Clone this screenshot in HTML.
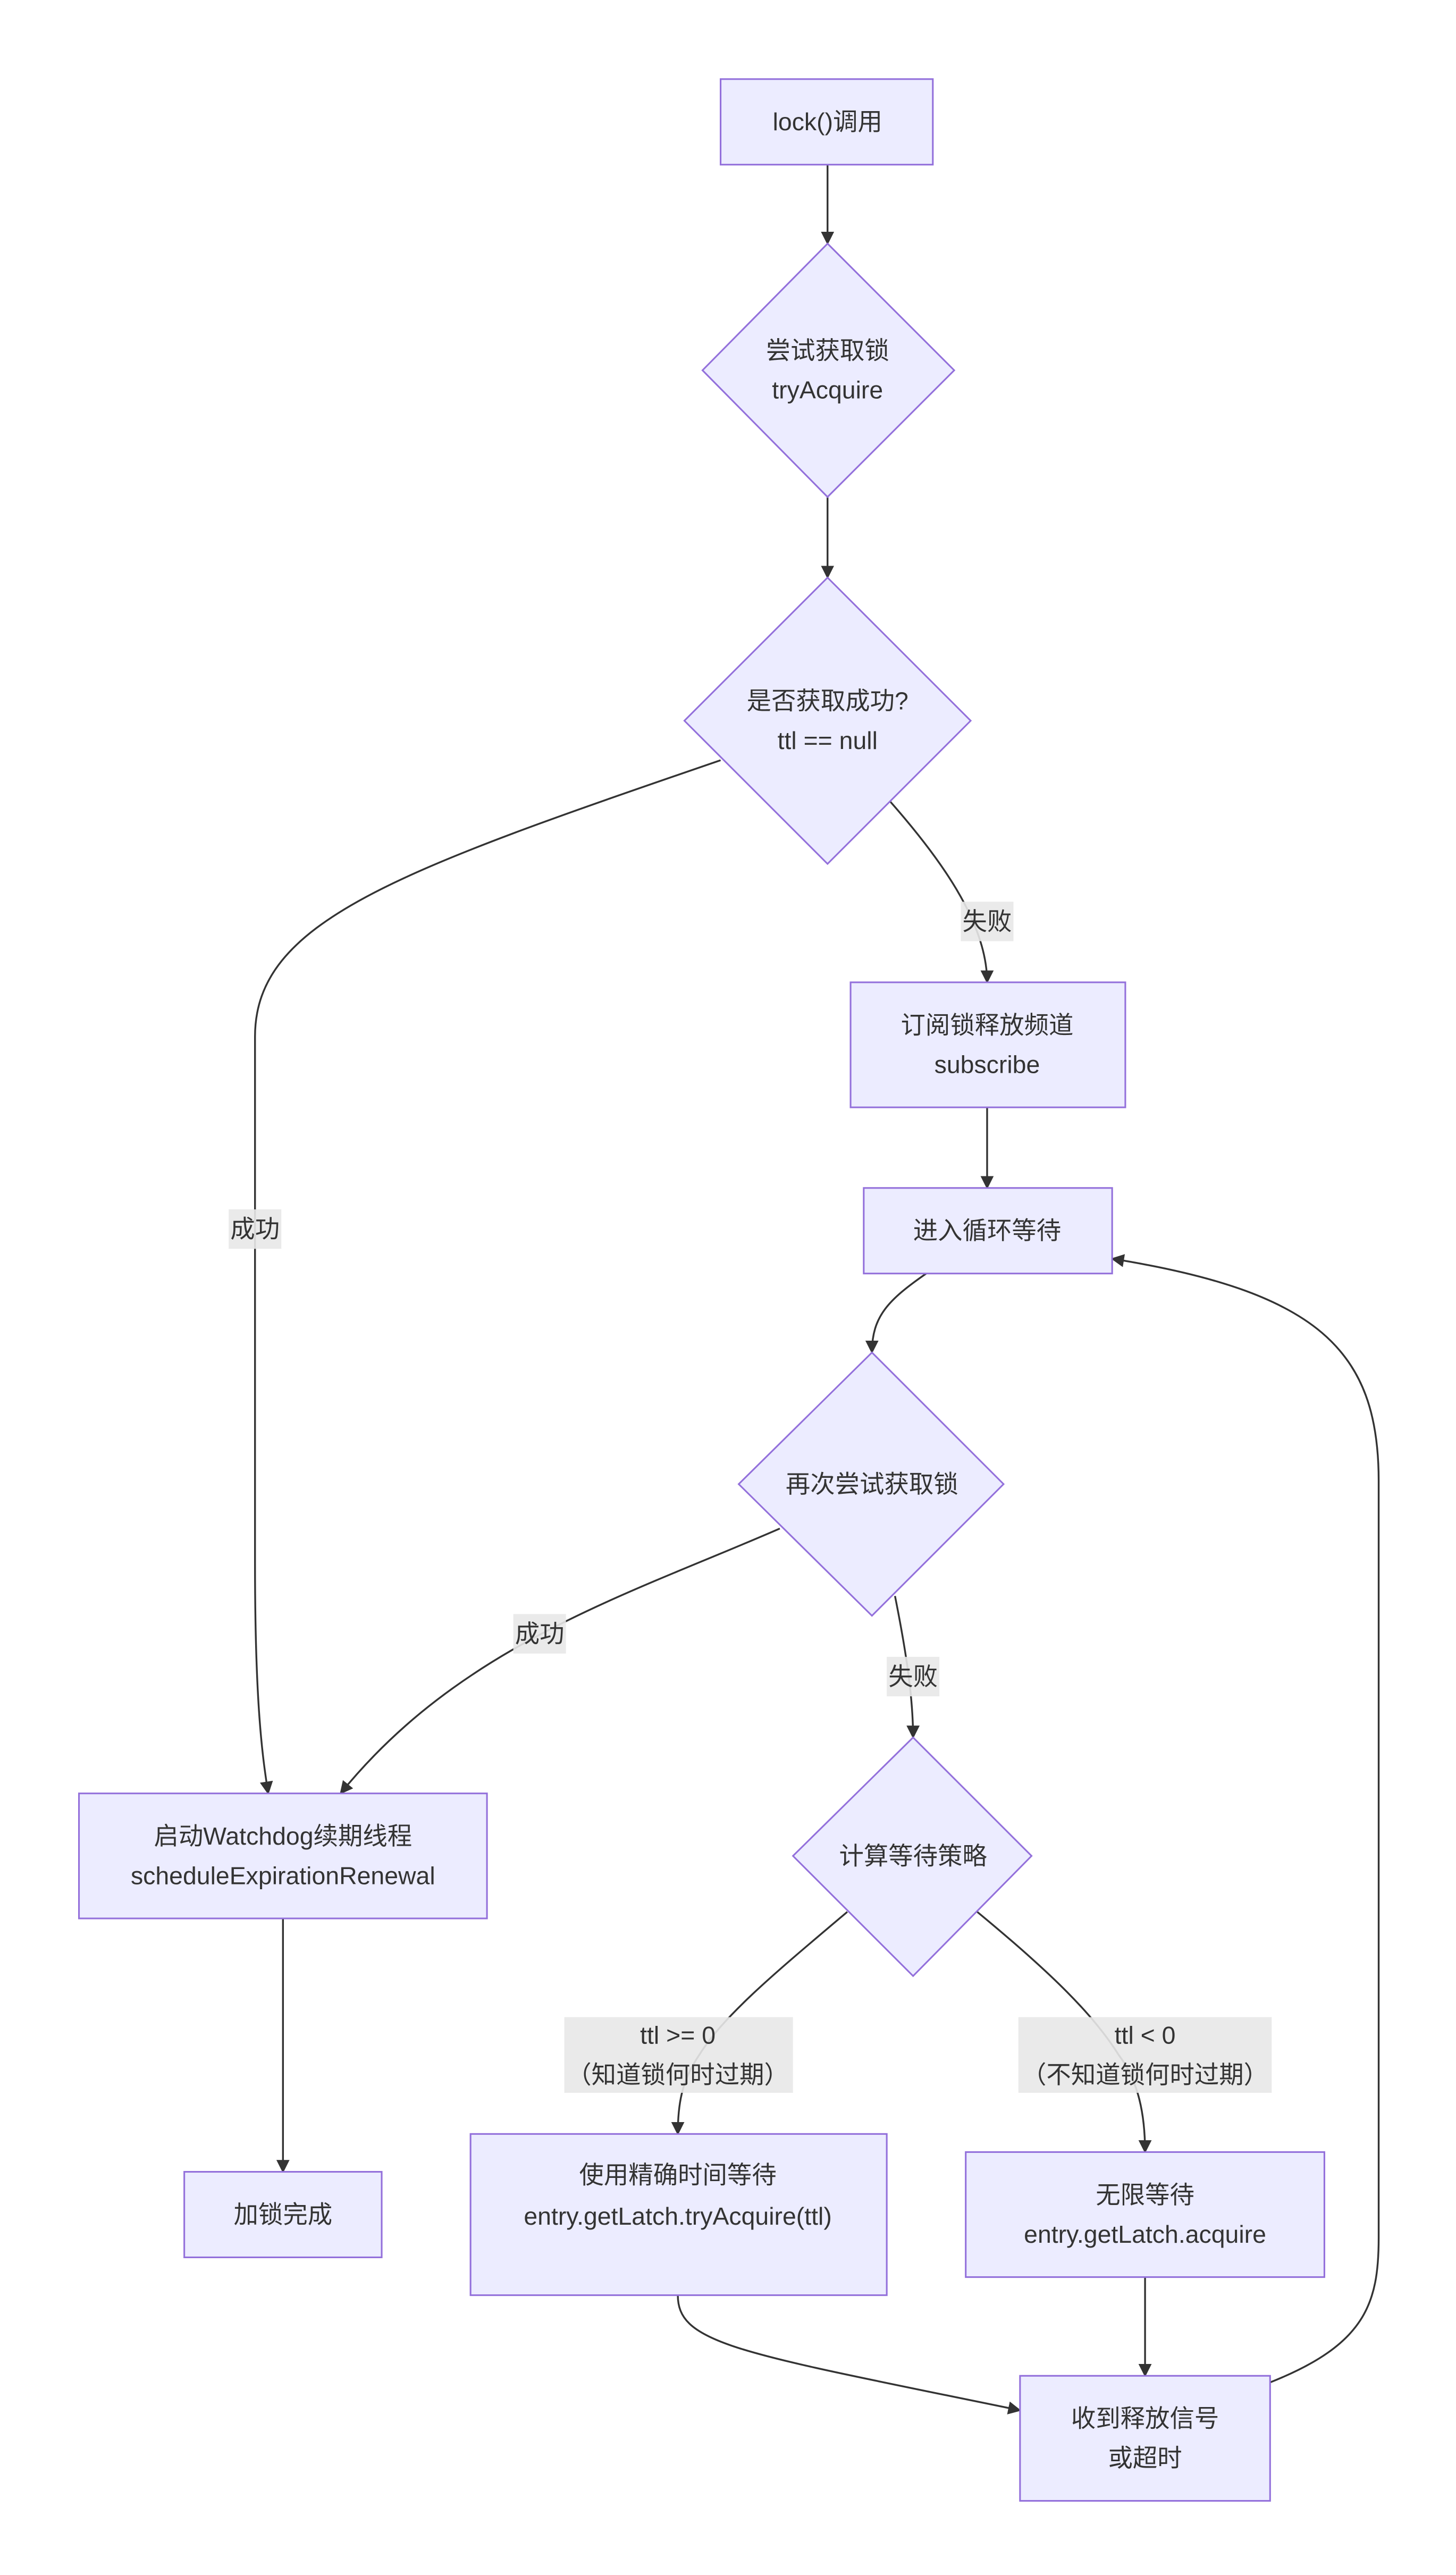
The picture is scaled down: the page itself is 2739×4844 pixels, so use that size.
<!DOCTYPE html>
<html><head><meta charset="utf-8">
<style>
html,body{margin:0;padding:0;background:#fff;}
svg{display:block;}
text{font-family:"Liberation Sans","Noto Sans CJK SC",sans-serif;font-size:15px;fill:#333;text-anchor:middle;dominant-baseline:central;}
.n{fill:#ECECFF;stroke:#9370DB;stroke-width:1;}
.e{fill:none;stroke:#333;stroke-width:1.1;}
.lb{fill:#e8e8e8;opacity:0.9;}
</style></head><body>
<svg width="2739" height="4844" viewBox="0 0 885 1565" xmlns="http://www.w3.org/2000/svg">
<defs><marker id="a" viewBox="0 0 10 10" refX="9" refY="5" markerWidth="8" markerHeight="8" markerUnits="userSpaceOnUse" orient="auto"><path d="M0,0L10,5L0,10z" fill="#333"/></marker></defs>
<rect width="885" height="1565" fill="#fff"/>
<!-- edges -->
<path class="e" marker-end="url(#a)" d="M503,100 L503,148"/>
<path class="e" marker-end="url(#a)" d="M503,302 L503,351"/>
<path class="e" marker-end="url(#a)" d="M438,462 C240,530 155,560 155,630 L155,950 C155,1040 160,1070 163,1090"/>
<path class="e" marker-end="url(#a)" d="M541,487 C570,520 600,560 600,597"/>
<path class="e" marker-end="url(#a)" d="M600,673 L600,722"/>
<path class="e" marker-end="url(#a)" d="M563,774 C540,790 530,800 530,822"/>
<path class="e" marker-end="url(#a)" d="M474,929 C380,970 280,1000 207,1090"/>
<path class="e" marker-end="url(#a)" d="M544,970 C550,1000 555,1030 555,1056"/>
<path class="e" marker-end="url(#a)" d="M172,1166 L172,1320"/>
<path class="e" marker-end="url(#a)" d="M515,1162 C470,1200 440,1225 425,1249 C414,1265 412,1280 412,1297"/>
<path class="e" marker-end="url(#a)" d="M594,1162 C640,1200 665,1225 680,1249 C692,1265 696,1285 696,1308"/>
<path class="e" marker-end="url(#a)" d="M696,1384 L696,1444"/>
<path class="e" marker-end="url(#a)" d="M412,1395 C412,1425 450,1430 620,1465"/>
<path class="e" marker-end="url(#a)" d="M772,1448 C830,1425 838,1400 838,1360 L838,900 C838,820 800,785 676,765"/>
<!-- edge labels -->
<rect class="lb" x="139" y="735" width="32" height="24"/><text x="155" y="747">成功</text>
<rect class="lb" x="584" y="548" width="32" height="24"/><text x="600" y="560">失败</text>
<rect class="lb" x="312" y="981" width="32" height="24"/><text x="328" y="993">成功</text>
<rect class="lb" x="539" y="1007" width="32" height="24"/><text x="555" y="1019">失败</text>
<rect class="lb" x="343" y="1226" width="139" height="46"/><text x="412" y="1237">ttl &gt;= 0</text><text x="412" y="1261">（知道锁何时过期）</text>
<rect class="lb" x="619" y="1226" width="154" height="46"/><text x="696" y="1237">ttl &lt; 0</text><text x="696" y="1261">（不知道锁何时过期）</text>
<!-- nodes -->
<rect class="n" x="438" y="48" width="129" height="52"/><text x="503" y="74">lock()调用</text>
<polygon class="n" points="503,148 580,225 503,302 427,225"/><text x="503" y="213">尝试获取锁</text><text x="503" y="237">tryAcquire</text>
<polygon class="n" points="503,351 590,438 503,525 416,438"/><text x="503" y="426">是否获取成功?</text><text x="503" y="450">ttl == null</text>
<rect class="n" x="517" y="597" width="167" height="76"/><text x="600" y="623">订阅锁释放频道</text><text x="600" y="647">subscribe</text>
<rect class="n" x="525" y="722" width="151" height="52"/><text x="600" y="748">进入循环等待</text>
<polygon class="n" points="530,822 610,902 530,982 449,902"/><text x="530" y="902">再次尝试获取锁</text>
<rect class="n" x="48" y="1090" width="248" height="76"/><text x="172" y="1116">启动Watchdog续期线程</text><text x="172" y="1140">scheduleExpirationRenewal</text>
<polygon class="n" points="555,1056 627,1128 555,1201 482,1128"/><text x="555" y="1128">计算等待策略</text>
<rect class="n" x="112" y="1320" width="120" height="52"/><text x="172" y="1346">加锁完成</text>
<rect class="n" x="286" y="1297" width="253" height="98"/><text x="412" y="1322">使用精确时间等待</text>
<svg x="286" y="1297" width="224" height="98" overflow="hidden"><text x="126" y="50">entry.getLatch.tryAcquire(ttl)</text></svg>
<rect class="n" x="587" y="1308" width="218" height="76"/><text x="696" y="1334">无限等待</text><text x="696" y="1358">entry.getLatch.acquire</text>
<rect class="n" x="620" y="1444" width="152" height="76"/><text x="696" y="1470">收到释放信号</text><text x="696" y="1494">或超时</text>
</svg>
</body></html>
